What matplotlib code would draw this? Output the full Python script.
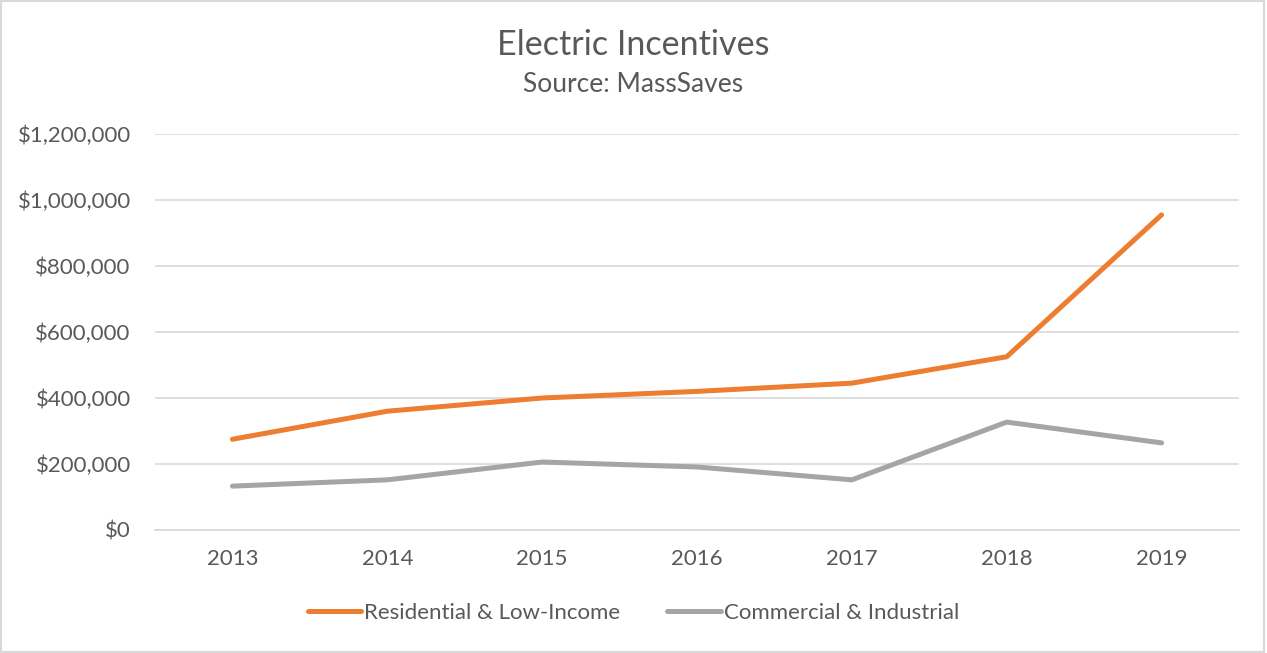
import matplotlib.pyplot as plt
from matplotlib.ticker import FuncFormatter, MultipleLocator
from matplotlib.patches import Rectangle

plt.rcParams['font.family'] = ['Lato', 'DejaVu Sans']

years = ["2013", "2014", "2015", "2016", "2017", "2018", "2019"]
residential = [275000, 360000, 400000, 420000, 445000, 525000, 955000]
commercial = [133000, 152000, 206000, 191000, 152000, 327000, 264000]

text_color = "#595959"
grid_color = "#d9d9d9"

fig = plt.figure(figsize=(12.67, 6.53), dpi=100)
ax = fig.add_axes([155 / 1267, 1 - 530 / 653, (1239 - 155) / 1267, (530 - 134) / 653])

x = range(len(years))
ax.plot(x, residential, color="#ed7d31", lw=3.6, solid_capstyle="round",
        solid_joinstyle="round", label="Residential & Low-Income")
ax.plot(x, commercial, color="#a5a5a5", lw=3.6, solid_capstyle="round",
        solid_joinstyle="round", label="Commercial & Industrial")

ax.set_xlim(-0.5, len(years) - 0.5)
ax.set_ylim(0, 1200000)
ax.yaxis.set_major_locator(MultipleLocator(200000))
ax.yaxis.set_major_formatter(FuncFormatter(lambda v, p: "${:,.0f}".format(v)))
ax.set_xticks(list(x))
ax.set_xticklabels(years)
ax.grid(axis="y", color=grid_color, lw=1.2)
ax.set_axisbelow(True)
for s in ["top", "right", "left"]:
    ax.spines[s].set_visible(False)
ax.spines["bottom"].set_color(grid_color)
ax.spines["bottom"].set_linewidth(1.2)
ax.tick_params(length=0, labelsize=16, labelcolor=text_color)
ax.tick_params(axis="y", pad=17.5)
ax.tick_params(axis="x", pad=14)

fig.text(0.5, 1 - 45 / 653, "Electric Incentives", ha="center", va="center",
         fontsize=24.6, color=text_color)
fig.text(0.5, 1 - 84 / 653, "Source: MassSaves", ha="center", va="center",
         fontsize=19, color=text_color)

fig.legend(loc="center", bbox_to_anchor=(0.5, 1 - 613 / 653), ncol=2, frameon=False,
           fontsize=16, labelcolor=text_color, handlelength=2.4, handletextpad=0.15,
           columnspacing=2.1)

fig.patches.append(Rectangle((0.001, 0.002), 0.997, 0.996, transform=fig.transFigure,
                             fill=False, edgecolor=grid_color, lw=1.5))

fig.savefig("out.png", dpi=100)
